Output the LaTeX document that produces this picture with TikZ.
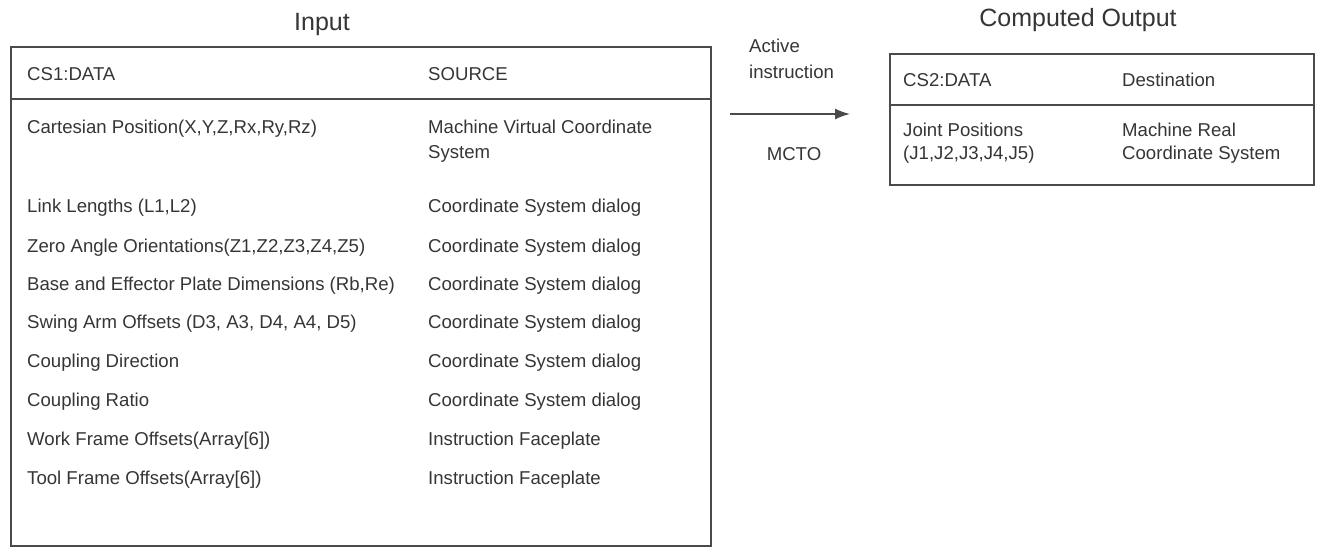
\documentclass[tikz,border=0pt]{standalone}
\usepackage{fontspec}
\setmainfont{Liberation Sans}
\usetikzlibrary{arrows.meta}
\definecolor{textc}{HTML}{353535}
\definecolor{linec}{HTML}{4A4A4A}
\begin{document}
\begin{tikzpicture}[x=1pt,y=-1pt,
  txt/.style={anchor=base west,inner sep=0pt,font=\fontsize{18.6}{22}\selectfont,text=textc},
  ctxt/.style={anchor=base,inner sep=0pt,font=\fontsize{18.6}{22}\selectfont,text=textc},
  ttl/.style={anchor=base,inner sep=0pt,font=\fontsize{25}{30}\selectfont,text=textc},
  boxline/.style={draw=linec,line width=1.8pt},
  frame/.style={boxline,rectangle,inner sep=0pt}]
\useasboundingbox (0,0) rectangle (1317,548);

% titles
\node[ttl] (tin) at (322,31) {Input};
\node[ttl] (tout) at (1078,27) {Computed Output};

% left box
\node[frame,minimum width=700pt,minimum height=499pt,anchor=north west] (inbox) at (10,46) {};
\draw[boxline] (10,99) -- (710,99);
\node[txt] (h1) at (27,81) {CS1:DATA};
\node[txt] (h2) at (428,81) {SOURCE};

\node[txt] (r1a) at (27,134) {Cartesian Position(X,Y,Z,Rx,Ry,Rz)};
\node[txt] (r1b) at (428,134) {Machine Virtual Coordinate};
\node[txt] (r1c) at (428,159) {System};
\node[txt] (r2a) at (27,213) {Link Lengths (L1,L2)};
\node[txt] (r2b) at (428,213) {Coordinate System dialog};
\node[txt] (r3a) at (27,252) {Zero Angle Orientations(Z1,Z2,Z3,Z4,Z5)};
\node[txt] (r3b) at (428,252) {Coordinate System dialog};
\node[txt] (r4a) at (27,290) {Base and Effector Plate Dimensions (Rb,Re)};
\node[txt] (r4b) at (428,290) {Coordinate System dialog};
\node[txt] (r5a) at (27,328) {Swing Arm Offsets (D3, A3, D4, A4, D5)};
\node[txt] (r5b) at (428,328) {Coordinate System dialog};
\node[txt] (r6a) at (27,367) {Coupling Direction};
\node[txt] (r6b) at (428,367) {Coordinate System dialog};
\node[txt] (r7a) at (27,406) {Coupling Ratio};
\node[txt] (r7b) at (428,406) {Coordinate System dialog};
\node[txt] (r8a) at (27,445) {Work Frame Offsets(Array[6])};
\node[txt] (r8b) at (428,445) {Instruction Faceplate};
\node[txt] (r9a) at (27,484) {Tool Frame Offsets(Array[6])};
\node[txt] (r9b) at (428,484) {Instruction Faceplate};

% arrow and labels
\node[txt] (act1) at (749,53) {Active};
\node[txt] (act2) at (749,79) {instruction};
\coordinate (aS) at (730,114);
\coordinate (aE) at (850,114);
\draw[draw=linec,line width=1.6pt,-{Latex[length=15pt,width=11pt]}] (aS) -- (aE);
\node[ctxt] (mcto) at (794,161) {MCTO};

% right box
\node[frame,minimum width=424pt,minimum height=131pt,anchor=north west] (outbox) at (889,53) {};
\draw[boxline] (889,105) -- (1313,105);
\node[txt] (o1) at (903,87) {CS2:DATA};
\node[txt] (o2) at (1122,87) {Destination};
\node[txt] (o3) at (903,137) {Joint Positions};
\node[txt] (o4) at (903,160) {(J1,J2,J3,J4,J5)};
\node[txt] (o5) at (1122,137) {Machine Real};
\node[txt] (o6) at (1122,160) {Coordinate System};
\end{tikzpicture}
\end{document}
